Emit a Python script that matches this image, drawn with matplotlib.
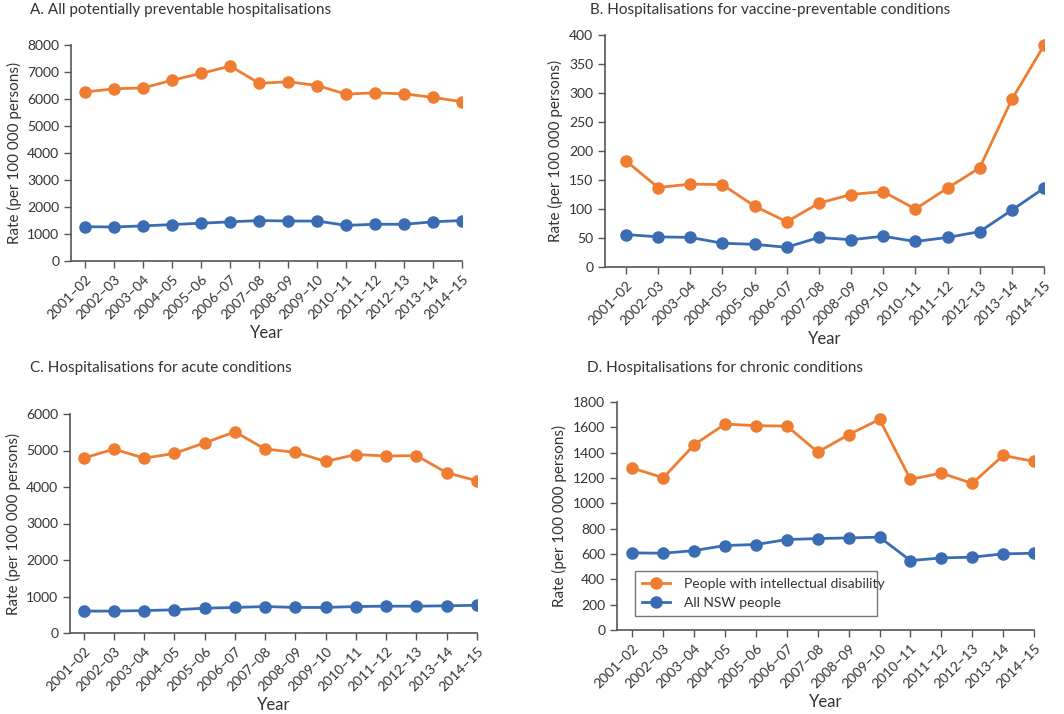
import matplotlib
matplotlib.use("Agg")
import matplotlib.pyplot as plt

# Данные
years = ["2001–02", "2002–03", "2003–04", "2004–05", "2005–06", "2006–07", "2007–08",
         "2008–09", "2009–10", "2010–11", "2011–12", "2012–13", "2013–14", "2014–15"]

a_id = [6260, 6380, 6410, 6700, 6950, 7220, 6580, 6640, 6500, 6180, 6230, 6190, 6060, 5900]
a_nsw = [1270, 1260, 1300, 1350, 1400, 1450, 1500, 1480, 1480, 1320, 1360, 1360, 1450, 1500]

b_id = [183, 137, 143, 142, 105, 78, 110, 125, 130, 100, 136, 171, 289, 382]
b_nsw = [56, 52, 51, 41, 39, 34, 51, 47, 53, 44, 51, 61, 98, 136]

c_id = [4790, 5040, 4790, 4920, 5210, 5510, 5040, 4950, 4700, 4890, 4850, 4860, 4390, 4170]
c_nsw = [600, 600, 615, 635, 680, 700, 725, 700, 700, 725, 735, 735, 745, 760]

d_id = [1278, 1202, 1463, 1626, 1613, 1610, 1405, 1542, 1663, 1189, 1239, 1157, 1378, 1331]
d_nsw = [609, 606, 627, 667, 675, 714, 722, 727, 733, 548, 569, 575, 601, 606]

titles = ["A. All potentially preventable hospitalisations",
          "B. Hospitalisations for vaccine-preventable conditions",
          "C. Hospitalisations for acute conditions",
          "D. Hospitalisations for chronic conditions"]
y_ticks = [range(0, 8001, 1000), range(0, 401, 50), range(0, 6001, 1000), range(0, 1801, 200)]

ORANGE = "#EF7D31"
BLUE = "#3A6CB4"
TXT = "#333333"
GREY = "#555555"

plt.rcParams["font.family"] = ["Lato", "DejaVu Sans"]

fig = plt.figure(figsize=(10.64, 7.14), dpi=100)
W, H = 1064, 714
# положения осей в пикселях: left, top, right, bottom
boxes = [(71, 45, 462, 261), (605, 35, 1044, 267), (70, 414, 477, 633), (617, 402, 1034, 630)]
xmins = [-0.5, -0.65, -0.45, -0.5]
title_x = [30, 590, 30, 587]
title_y = [3, 3, 361, 361]

series = [(a_id, a_nsw), (b_id, b_nsw), (c_id, c_nsw), (d_id, d_nsw)]
x = list(range(len(years)))

for i, (b, (s_id, s_nsw)) in enumerate(zip(boxes, series)):
    l, t, r, bt = b
    ax = fig.add_axes([l / W, 1 - bt / H, (r - l) / W, (bt - t) / H])
    ax.plot(x, s_id, color=ORANGE, lw=2, marker="o", ms=8, label="People with intellectual disability")
    ax.plot(x, s_nsw, color=BLUE, lw=2, marker="o", ms=8, label="All NSW people")
    yt = list(y_ticks[i])
    ax.set_ylim(0, yt[-1])
    ax.set_yticks(yt)
    ax.set_xlim(xmins[i], 13)
    ax.set_xticks(x)
    ax.set_xticklabels(years, rotation=45, ha="right", rotation_mode="anchor")
    for s in ["top", "right"]:
        ax.spines[s].set_visible(False)
    for s in ["left", "bottom"]:
        ax.spines[s].set_color(GREY)
        ax.spines[s].set_linewidth(1.2)
    ax.tick_params(colors=GREY, labelcolor=TXT, labelsize=10, length=5, width=1)
    ax.set_ylabel("Rate (per 100 000 persons)", fontsize=11, color=TXT, labelpad=4)
    ax.set_xlabel("Year", fontsize=12, color=TXT, labelpad=3)
    fig.text(title_x[i] / W, 1 - title_y[i] / H, titles[i], fontsize=11, color=TXT,
             ha="left", va="top")
    if i == 3:
        leg = ax.legend(loc="lower left", bbox_to_anchor=(0.043, 0.061, 0.581, 0.185),
                        mode="expand", borderaxespad=0, fontsize=10, frameon=True,
                        fancybox=False, borderpad=0.5, handlelength=2.0,
                        handletextpad=1.0, labelspacing=0.5)
        leg.get_frame().set_edgecolor(GREY)
        leg.get_frame().set_linewidth(1)
        for txt in leg.get_texts():
            txt.set_color(TXT)

fig.savefig("out.png", dpi=100)
